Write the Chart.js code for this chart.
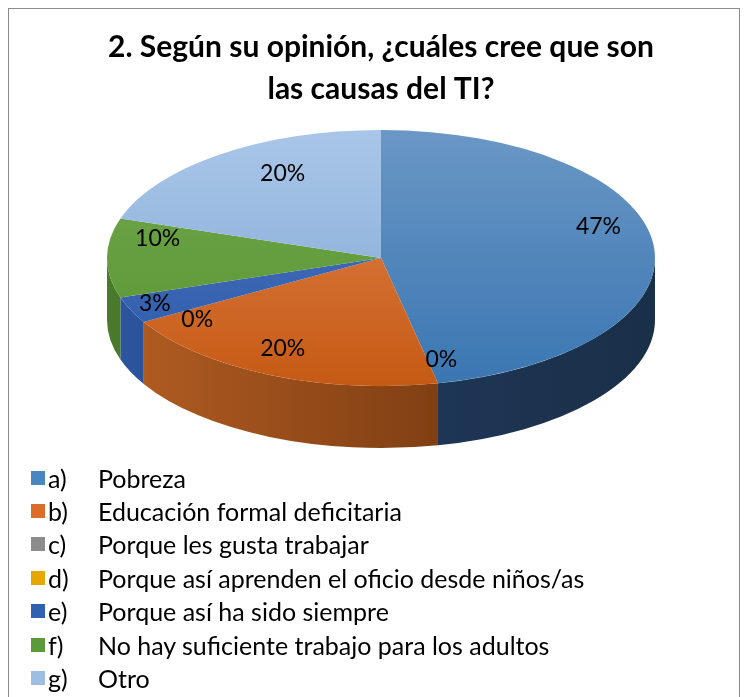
<!DOCTYPE html>
<html>
<head>
<meta charset="utf-8">
<script src="https://cdn.jsdelivr.net/npm/chart.js@4.4.1/dist/chart.umd.min.js"></script>
<style>
    html, body { margin: 0; padding: 0; background: #fff; }
    body { width: 751px; height: 697px; position: relative; overflow: hidden; font-family: Lato, "Open Sans", sans-serif; }
    #frame { position: absolute; left: 8px; top: 8px; width: 730px; height: 720px; border: 1px solid #8c8c8c; }
    #wrap { position: absolute; left: 0; top: 0; width: 751px; height: 697px; }
    #legend { position: absolute; left: 31px; top: 461px; font-size: 25px; color: #000; }
    #legend .row { height: 33.4px; display: flex; align-items: center; white-space: nowrap; }
    #legend .sw { width: 14px; height: 14px; margin-right: 3px; }
    #legend .letter { width: 50px; }
</style>
</head>
<body>
<div id="frame"></div>
<div id="wrap"><canvas id="pie"></canvas></div>
<div id="legend"></div>
<script>
const letters = ['a)', 'b)', 'c)', 'd)', 'e)', 'f)', 'g)'];
const causes = [
    'Pobreza',
    'Educación formal deficitaria',
    'Porque les gusta trabajar',
    'Porque así aprenden el oficio desde niños/as',
    'Porque así ha sido siempre',
    'No hay suficiente trabajo para los adultos',
    'Otro'
];
const answers = [14, 6, 0, 0, 1, 3, 6];
const titleLines = ['2. Según su opinión, ¿cuáles cree que son', 'las causas del TI?'];

// top face colours [light, dark], legend swatches
const faceColors = [
    ['#6a97c5', '#3a76b2'],
    ['#e08550', '#c65a14'],
    ['#a3a3a3', '#858585'],
    ['#f4be2a', '#e0a400'],
    ['#4a72bd', '#2d5cab'],
    ['#72a84f', '#57942f'],
    ['#a9c6e8', '#7fa6d3']
];
const legendColors = ['#4a86c0', '#dd6b2a', '#8c8c8c', '#e6a800', '#3060b0', '#5a9a3a', '#9dbde3'];
const sideColors = [
    ['#23416a', '#1a2f48'],
    ['#b45e22', '#5e2b0a'],
    ['#707070', '#4a4a4a'],
    ['#a47800', '#6a4d00'],
    ['#2d56a0', '#1a3264'],
    ['#4b7a2c', '#2c4a19'],
    ['#6d8fb8', '#3f5a7c']
];
// label placement tweaks (degrees / fraction of radius), Excel moves them about
const labelShift = [-11, 3, -5.6, -3.6, 0.5, 10.8, 7.4];
const labelRadius = [0.83, 0.79, 0.825, 0.82, 0.9, 0.83, 0.75];

const RX = 274, RY = 128, CX = 381, CY = 258, DEPTH = 62;
const K = RY / RX;

function sideGradient(ctx, i) {
    const g = ctx.createLinearGradient(CX - RX, 0, CX + RX, 0);
    g.addColorStop(0, sideColors[i][0]);
    g.addColorStop(1, sideColors[i][1]);
    return g;
}

const pie3d = {
    id: 'pie3d',
    beforeDatasetsDraw(chart) {
        const ctx = chart.ctx;
        const arcs = chart.getDatasetMeta(0).data;
        // outer rim (visible front half only)
        arcs.forEach((arc, i) => {
            const { startAngle, endAngle } = arc.getProps(['startAngle', 'endAngle'], true);
            const s = Math.max(startAngle, 0);
            const e = Math.min(endAngle, Math.PI);
            if (e <= s) return;
            ctx.save();
            ctx.beginPath();
            ctx.ellipse(CX, CY, RX, RY, 0, s, e, false);
            ctx.lineTo(CX + RX * Math.cos(e), CY + RY * Math.sin(e) + DEPTH);
            ctx.ellipse(CX, CY + DEPTH, RX, RY, 0, e, s, true);
            ctx.closePath();
            ctx.fillStyle = sideGradient(ctx, i);
            ctx.fill();
            ctx.restore();
        });
        // squash the flat pie into an ellipse
        const { x, y } = arcs[0].getProps(['x', 'y'], true);
        ctx.save();
        ctx.translate(CX - x, CY - y * K);
        ctx.scale(1, K);
    },
    afterDatasetsDraw(chart) {
        const ctx = chart.ctx;
        ctx.restore();
        const arcs = chart.getDatasetMeta(0).data;
        const total = answers.reduce((a, b) => a + b, 0);
        ctx.save();
        ctx.font = '23px Lato, "Open Sans", sans-serif';
        ctx.fillStyle = '#000';
        ctx.textAlign = 'center';
        ctx.textBaseline = 'middle';
        arcs.forEach((arc, i) => {
            const p = arc.getProps(['startAngle', 'endAngle'], true);
            let mid = (p.startAngle + p.endAngle) / 2;
            // two empty slices sit on the same spot, move one to the first boundary
            if (answers[i] === 0 && i === 3) mid = arcs[0].getProps(['endAngle'], true).endAngle;
            mid += labelShift[i] * Math.PI / 180;
            const lx = CX + RX * labelRadius[i] * Math.cos(mid);
            const ly = CY + RY * labelRadius[i] * Math.sin(mid);
            ctx.fillText(Math.round(answers[i] / total * 100) + '%', lx, ly);
        });
        ctx.restore();
    }
};

const chart = new Chart(document.getElementById('pie'), {
    type: 'pie',
    data: {
        labels: causes.map((c, i) => letters[i] + ' ' + c),
        datasets: [{
            data: answers,
            borderWidth: 0,
            backgroundColor(context) {
                const c = context.chart;
                const i = context.dataIndex;
                if (!c.chartArea) return faceColors[i][1];
                const mid = (c.chartArea.top + c.chartArea.bottom) / 2;
                const g = c.ctx.createLinearGradient(0, mid - RX, 0, mid + RX);
                g.addColorStop(0, faceColors[i][0]);
                g.addColorStop(1, faceColors[i][1]);
                return g;
            }
        }]
    },
    options: {
        responsive: true,
        maintainAspectRatio: false,
        animation: false,
        events: [],
        layout: { padding: { left: 107, right: 96, top: 16, bottom: 0 } },
        plugins: {
            legend: { display: false },
            tooltip: { enabled: false },
            title: {
                display: true,
                text: titleLines,
                color: '#000',
                font: { family: 'Lato, "Open Sans", sans-serif', size: 30, weight: 'bold', lineHeight: 1.4 }
            }
        }
    },
    plugins: [pie3d]
});

// legend as html, built from the chart's own legend items
const legendEl = document.getElementById('legend');
const items = Chart.overrides.pie.plugins.legend.labels.generateLabels(chart);
items.forEach((item, i) => {
    const row = document.createElement('div');
    row.className = 'row';
    row.innerHTML = `<span class="sw" style="background:${legendColors[i]}"></span>` +
        `<span class="letter">${letters[i]}</span><span>${item.text.slice(letters[i].length + 1)}</span>`;
    legendEl.appendChild(row);
});
</script>
</body>
</html>
